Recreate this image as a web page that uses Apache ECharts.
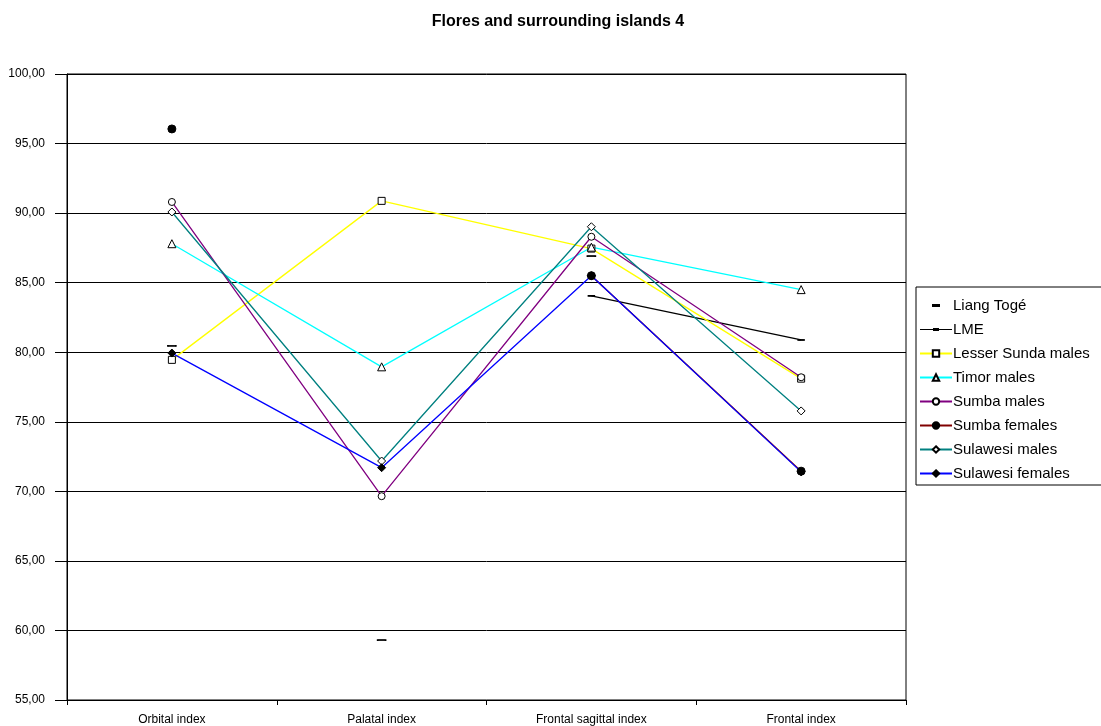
<!DOCTYPE html>
<html><head><meta charset="utf-8">
<script src="https://cdn.jsdelivr.net/npm/echarts@6/dist/echarts.min.js"></script>
<style>html,body{margin:0;padding:0;background:#fff}#c{width:1101px;height:726px}</style>
</head><body><div id="c"></div>
<script>
const categories = ['Orbital index', 'Palatal index', 'Frontal sagittal index', 'Frontal index'];
const liangToge = [80.45, 59.3, 86.9, null];
const lme = [null, null, 84.05, 80.88];
const lesserSundaMales = [79.45, 90.88, 87.45, 78.1];
const timorMales = [87.8, 78.95, 87.55, 84.5];
const sumbaMales = [90.8, 69.65, 88.3, 78.2];
const sumbaFemales = [96.05, null, 85.5, 71.45];
const sulawesiMales = [90.08, 72.18, 89.02, 75.78];
const sulawesiFemales = [79.94, 71.7, 85.5, 71.4];
const yTicks = { min: 55, max: 100, interval: 5 };

const FONT = 'Liberation Sans, Arial, sans-serif';
const DASH = 'path://M0,0h8v3h-8z';
const chart = echarts.init(document.getElementById('c'));

function lineSeries(name, data, color, symbol, size, fill, width) {
  return {
    name, type: 'line', data, symbol, symbolSize: size, showAllSymbol: true,
    symbolKeepAspect: true, connectNulls: false,
    lineStyle: { color, width: width === undefined ? 1.3 : width, opacity: width === 0 ? 0 : 1 },
    itemStyle: { color: fill, borderColor: '#000', borderWidth: 1 },
    emphasis: { disabled: true }, animation: false, z: 3
  };
}

chart.setOption({
  animation: false,
  backgroundColor: '#fff',
  title: {
    text: 'Flores and surrounding islands 4', left: 553, textAlign: 'center', top: 9,
    textStyle: { fontFamily: FONT, fontSize: 16, fontWeight: 'bold', color: '#000' }
  },
  grid: { left: 67, right: 195, top: 74, bottom: 26, show: true, borderColor: '#000', borderWidth: 1, backgroundColor: 'transparent' },
  legend: {
    orient: 'vertical', left: 916, top: 287,
    borderColor: '#000', borderWidth: 1, padding: [11, 20, 4, 3],
    itemWidth: 32, itemHeight: 8, itemGap: 9,
    textStyle: { fontFamily: FONT, fontSize: 15, color: '#000', padding: [0, 0, 0, -4] },
    data: [
      { name: 'Liang Togé', icon: 'path://M0,0M32,8M12,2.5h8v3h-8z', itemStyle: { color: '#000', borderWidth: 0 } },
      { name: 'LME', icon: 'path://M0,0M32,8M0,3.4h32v1.2h-32zM13,2.5h6v3h-6z', itemStyle: { color: '#000', borderWidth: 0 } },
      'Lesser Sunda males', 'Timor males', 'Sumba males', 'Sumba females', 'Sulawesi males', 'Sulawesi females'
    ]
  },
  xAxis: {
    type: 'category', data: categories, boundaryGap: true,
    axisLine: { lineStyle: { color: '#000', width: 1 } },
    axisTick: { show: true, length: 5, lineStyle: { color: '#000' } },
    axisLabel: { fontFamily: FONT, fontSize: 12, color: '#000', margin: 14 },
    splitLine: { show: false }
  },
  yAxis: {
    type: 'value', min: yTicks.min, max: yTicks.max, interval: yTicks.interval,
    axisLine: { show: true, lineStyle: { color: '#000', width: 1 } },
    axisTick: { show: true, length: 12, lineStyle: { color: '#000' } },
    axisLabel: { fontFamily: FONT, fontSize: 12, color: '#000', margin: 22,
      formatter: v => v.toFixed(2).replace('.', ',') },
    splitLine: { show: true, lineStyle: { color: '#000', width: 1 } }
  },
  series: [
    lineSeries('Liang Togé', liangToge, '#000', DASH, [8, 3], '#000', 0),
    lineSeries('LME', lme, '#000', DASH, [5, 2], '#000'),
    lineSeries('Lesser Sunda males', lesserSundaMales, '#FFFF00', 'rect', 7, '#fff'),
    lineSeries('Timor males', timorMales, '#00FFFF', 'triangle', 8, '#fff'),
    lineSeries('Sumba males', sumbaMales, '#800080', 'circle', 7, '#fff'),
    lineSeries('Sumba females', sumbaFemales, '#800000', 'circle', 8, '#000'),
    lineSeries('Sulawesi males', sulawesiMales, '#008080', 'diamond', 8, '#fff'),
    lineSeries('Sulawesi females', sulawesiFemales, '#0000FF', 'diamond', 8, '#000')
  ]
});
</script>
</body></html>
